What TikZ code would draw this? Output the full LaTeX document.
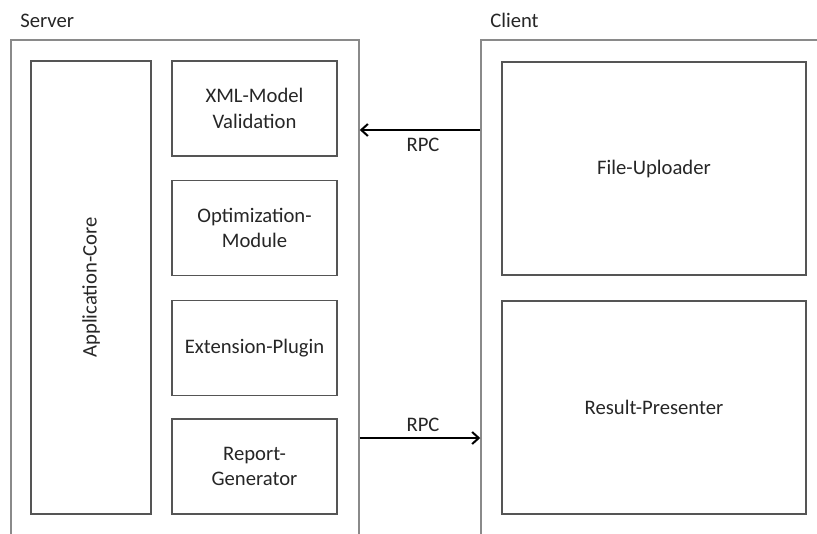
\documentclass[tikz,border=0pt]{standalone}
\usepackage{fontspec}
\setmainfont{Carlito}
\usepackage{xcolor}
\usetikzlibrary{arrows.meta,positioning}
\definecolor{FrameGray}{HTML}{8A8A8A}
\definecolor{BoxGray}{HTML}{555555}
\definecolor{InkGray}{HTML}{262626}

\begin{document}
\begin{tikzpicture}[x=0.75pt, y=0.75pt,
  font=\fontsize{15.5}{19}\selectfont, text=InkGray,
  frame/.style={draw=FrameGray, line width=1.1pt, inner sep=0pt},
  module/.style={draw=BoxGray, line width=1.1pt, align=center,
                 minimum width=123.75pt, minimum height=71.25pt, inner sep=2pt},
  part/.style={draw=BoxGray, line width=1.1pt, align=center,
               minimum width=228pt, minimum height=159.75pt, inner sep=2pt},
  lbl/.style={inner sep=0pt},
  rpc/.style={draw=black, line width=1.5pt,
              -{Straight Barb[length=5pt, width=9pt, line width=1.5pt]}},
]
\useasboundingbox (0,0) rectangle (817,533);

%% ---- server side ----
\node[lbl, anchor=base west] (srvlbl) at (20,505) {Server};
\node[frame, minimum width=261pt, minimum height=384.75pt] (server) at (185,236.5) {};
\node[module, minimum width=90pt, minimum height=339.75pt] (core) at (91,245.5)
  {\rotatebox{90}{Application-Core}};
\foreach \n/\y/\t in {xml/424.5/{XML-Model\\Validation},
                      opt/305/{Optimization-\\Module},
                      ext/185/{Extension-Plugin},
                      rep/66.5/{Report-\\Generator}}
  \node[module] (\n) at (254.5,\y) {\t};

%% ---- client side ----
\node[lbl, anchor=base west] (clilbl) at (490,505) {Client};
\node[frame, minimum width=269.25pt, minimum height=384.75pt] (client) at (660.5,236.5) {};
\node[part] (upload) at (654,364.5) {File-Uploader};
\node[part] (result) at (654,125.5) {Result-Presenter};

%% ---- rpc calls ----
\coordinate (callin) at (0,403);
\coordinate (callout) at (0,95);
\draw[rpc] (client.west |- callin) -- (server.east |- callin);
\draw[rpc] (server.east |- callout) -- (client.west |- callout);
\node[lbl, anchor=base] (rpcin) at (423,382) {RPC};
\node[lbl, anchor=base] (rpcout) at (423,102) {RPC};
\end{tikzpicture}
\end{document}
